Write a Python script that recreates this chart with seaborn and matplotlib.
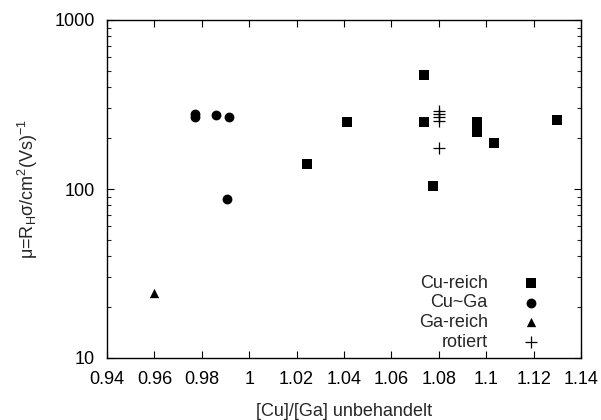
import matplotlib
matplotlib.use("Agg")
import matplotlib.pyplot as plt
import seaborn as sns
import pandas as pd
import numpy as np
from matplotlib.ticker import FixedLocator, LogLocator, NullFormatter, FixedFormatter

# Data
cu_reich_x = [1.0245, 1.0414, 1.0739, 1.0739, 1.0777, 1.0962, 1.0962, 1.1034, 1.1300]
cu_reich_y = [140, 248, 471, 248, 104, 248, 217, 186, 255]
cu_ga_x = [0.977, 0.977, 0.986, 0.9916, 0.9905]
cu_ga_y = [266, 278, 274, 266, 87]
ga_reich_x = [0.960]
ga_reich_y = [24.3]
rotiert_x = [1.080, 1.080, 1.080, 1.080, 1.080]
rotiert_y = [291, 278, 265, 253, 176]

labels = ["Cu-reich", "Cu~Ga", "Ga-reich", "rotiert"]
xticks = [0.94, 0.96, 0.98, 1.00, 1.02, 1.04, 1.06, 1.08, 1.10, 1.12, 1.14]
xticklabels = ["0.94", "0.96", "0.98", "1", "1.02", "1.04", "1.06", "1.08", "1.1", "1.12", "1.14"]
yticks = [10, 100, 1000]
yticklabels = ["10", "100", "1000"]

df = pd.DataFrame({
    "x": cu_reich_x + cu_ga_x + ga_reich_x + rotiert_x,
    "y": cu_reich_y + cu_ga_y + ga_reich_y + rotiert_y,
    "group": [labels[0]] * len(cu_reich_x) + [labels[1]] * len(cu_ga_x)
             + [labels[2]] * len(ga_reich_x) + [labels[3]] * len(rotiert_x),
})

sns.set_theme(style="ticks")
plt.rcParams["font.family"] = ["Liberation Sans", "DejaVu Sans"]
plt.rcParams["mathtext.fontset"] = "custom"
plt.rcParams["mathtext.rm"] = "Liberation Sans"
plt.rcParams["mathtext.it"] = "Liberation Sans:italic"

fig = plt.figure(figsize=(6.01, 4.20), dpi=100)
ax = fig.add_axes([107 / 601, 1 - 358 / 420, (581 - 107) / 601, (358 - 20) / 420])

markers = {labels[0]: "s", labels[1]: "o", labels[2]: "^", labels[3]: "+"}
sizes = {labels[0]: 60, labels[1]: 50, labels[2]: 45, labels[3]: 70}
for lab in labels:
    sub = df[df["group"] == lab]
    kw = dict(linewidth=0) if markers[lab] != "+" else dict(linewidth=0.9)
    sns.scatterplot(data=sub, x="x", y="y", marker=markers[lab], color="black",
                    s=sizes[lab], ax=ax, label=lab, **kw)

ax.set_yscale("log")
ax.set_xlim(0.94, 1.14)
ax.set_ylim(10, 1000)
ax.xaxis.set_major_locator(FixedLocator(xticks))
ax.xaxis.set_major_formatter(FixedFormatter(xticklabels))
ax.yaxis.set_major_locator(FixedLocator(yticks))
ax.yaxis.set_major_formatter(FixedFormatter(yticklabels))
ax.yaxis.set_minor_locator(LogLocator(base=10, subs=np.arange(2, 10)))
ax.yaxis.set_minor_formatter(NullFormatter())

ax.tick_params(axis="both", which="major", direction="in", length=5, width=0.8,
               top=True, right=True, labelsize=13, colors="black")
ax.tick_params(axis="x", which="major", pad=9)
ax.tick_params(axis="y", which="major", pad=9)
ax.tick_params(axis="y", which="minor", direction="in", length=3, width=0.8,
               right=True, left=True)
for sp in ax.spines.values():
    sp.set_linewidth(1.0)
    sp.set_color("black")

ax.set_xlabel("[Cu]/[Ga] unbehandelt", fontsize=13, labelpad=11)
ax.set_ylabel(r"μ=R$_\mathrm{H}$σ/cm$^2$(Vs)$^{-1}$", fontsize=13, labelpad=10)

leg = ax.legend(loc="lower right", frameon=False, markerfirst=False, fontsize=13,
                handletextpad=1.4, labelspacing=0.15, borderaxespad=0.0,
                bbox_to_anchor=(0.948, 0.0))
for t in leg.get_texts():
    t.set_ha("right")

fig.savefig("out.png", dpi=100)
